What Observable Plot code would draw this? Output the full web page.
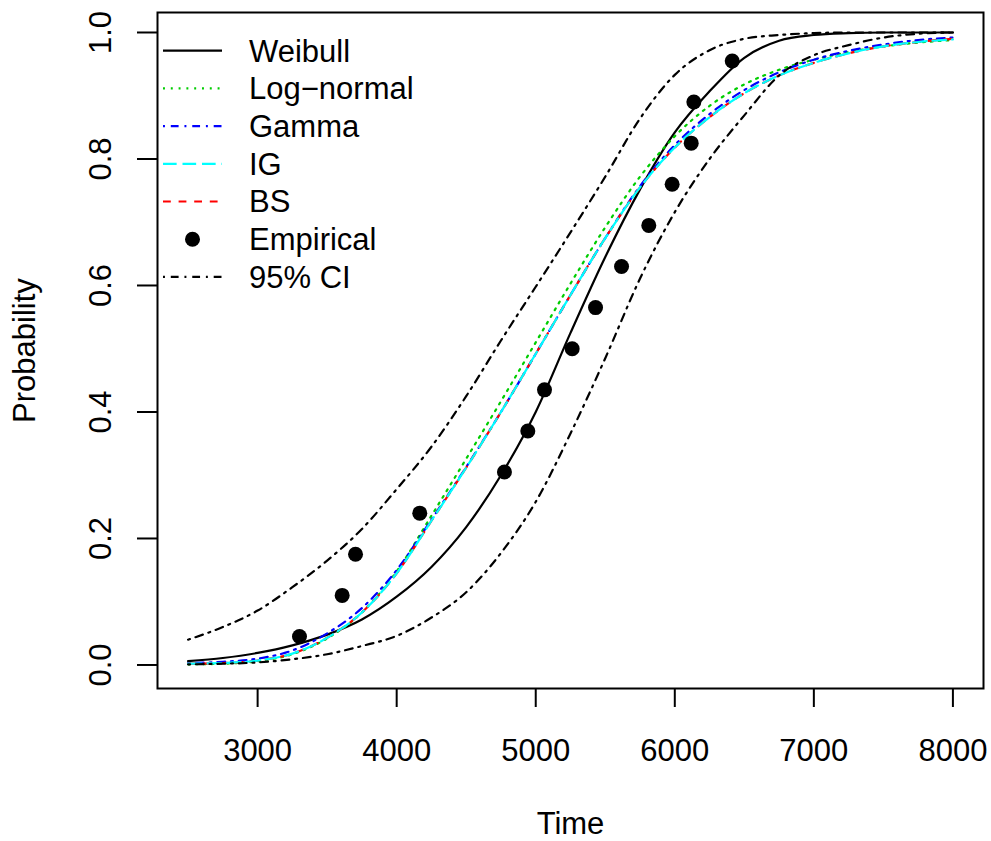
<!DOCTYPE html>
<html><head><meta charset="utf-8">
<script src="https://cdn.jsdelivr.net/npm/d3@7"></script>
<script src="https://cdn.jsdelivr.net/npm/@observablehq/plot@0.6"></script>
<style>
html,body{margin:0;padding:0;background:#fff;}
#chart{width:991px;height:841px;}
</style></head><body><div id="chart"></div>
<script>
// ---- data ----
const timeGrid   = [2500,2750,3000,3250,3500,3750,4000,4250,4500,4750,5000,5250,5500,5750,6000,6250,6500,6750,7000,7250,7500,7750,8000];
const weibull    = [0.006,0.011,0.019,0.031,0.048,0.072,0.108,0.155,0.218,0.300,0.400,0.525,0.645,0.752,0.842,0.907,0.960,0.987,0.996,0.999,1.000,1.000,1.000];
const logNormal  = [0.001,0.002,0.006,0.017,0.042,0.083,0.148,0.236,0.326,0.417,0.510,0.603,0.692,0.772,0.836,0.884,0.918,0.941,0.957,0.969,0.978,0.984,0.988];
const gammaFit   = [0.003,0.005,0.010,0.023,0.050,0.090,0.150,0.230,0.313,0.400,0.492,0.585,0.675,0.757,0.822,0.871,0.909,0.937,0.957,0.971,0.981,0.988,0.992];
const igFit      = [0.002,0.003,0.007,0.018,0.043,0.083,0.145,0.228,0.312,0.400,0.492,0.585,0.675,0.755,0.818,0.866,0.904,0.932,0.952,0.967,0.978,0.985,0.989];
const bsFit      = [0.002,0.003,0.007,0.018,0.043,0.083,0.145,0.228,0.312,0.400,0.492,0.585,0.675,0.755,0.818,0.866,0.904,0.932,0.952,0.967,0.978,0.985,0.990];
const ciLower    = [0.001,0.002,0.004,0.009,0.017,0.030,0.046,0.075,0.115,0.177,0.258,0.366,0.485,0.611,0.716,0.800,0.869,0.932,0.964,0.980,0.992,0.998,1.000];
const ciUpper    = [0.040,0.060,0.086,0.123,0.165,0.215,0.278,0.345,0.425,0.513,0.598,0.684,0.772,0.864,0.933,0.972,0.990,0.996,0.999,1.000,1.000,1.000,1.000];
const empTime    = [3301,3608,3704,4166,4775,4943,5063,5262,5430,5617,5813,5981,6118,6137,6413];
const empProb    = [0.045,0.110,0.175,0.240,0.305,0.370,0.435,0.500,0.565,0.630,0.695,0.760,0.825,0.890,0.955];
const xTicks     = [3000,4000,5000,6000,7000,8000];
const yTicks     = [0,0.2,0.4,0.6,0.8,1.0];
const legendNames = ["Weibull","Log\u2212normal","Gamma","IG","BS","Empirical","95% CI"];

// ---- styles ----
const LW = 2.2;  // line width in px
const U = 1.95;  // R dash unit in px
const dash = {
  solid: null,
  dotted: [1,3].map(d=>d*U).join(","),
  dashed: [4,4].map(d=>d*U).join(","),
  dotdash: [1,3,4,3].map(d=>d*U).join(","),
  longdash: [7,3].map(d=>d*U).join(",")
};
const curves = [
  {vals: weibull,   color: "#000000", dash: dash.solid},
  {vals: logNormal, color: "#00CD00", dash: dash.dotted},
  {vals: gammaFit,  color: "#0000FF", dash: dash.dotdash},
  {vals: bsFit,     color: "#FF0000", dash: dash.dashed},
  {vals: igFit,     color: "#00FFFF", dash: dash.longdash},
  {vals: ciLower,   color: "#000000", dash: dash.dotdash},
  {vals: ciUpper,   color: "#000000", dash: dash.dotdash}
];
const rows = vals => timeGrid.map((t,i)=>({t, p: vals[i]}));
const empirical = empTime.map((t,i)=>({t, p: empProb[i]}));
const FONT = "'Liberation Sans', Arial, Helvetica, sans-serif";
const FS = 31;

const plot = Plot.plot({
  width: 991, height: 841,
  marginLeft: 157, marginRight: 8, marginTop: 12, marginBottom: 153,
  style: {fontFamily: FONT, fontSize: FS + "px", color: "black", background: "white", overflow: "visible"},
  x: {type: "linear", domain: [2280, 8220]},
  y: {type: "linear", domain: [-0.0372, 1.0316]},
  marks: [
    Plot.axisX(xTicks, {tickSize: 19, tickPadding: 31, strokeWidth: 2, tickFormat: d => String(d), fontSize: FS, label: null}),
    Plot.axisY(yTicks, {tickSize: 20, strokeWidth: 2, tickFormat: () => "", label: null}),
    Plot.text(yTicks, {y: d => d, text: d => d3.format(".1f")(d), frameAnchor: "left", dx: -47, rotate: -90,
                       textAnchor: "middle", lineAnchor: "bottom", fontSize: FS}),
    Plot.text(["Time"], {text: d => d, frameAnchor: "bottom", dy: 145, lineAnchor: "bottom", fontSize: FS}),
    Plot.text(["Probability"], {text: d => d, frameAnchor: "left", dx: -123, rotate: -90,
                       textAnchor: "middle", lineAnchor: "bottom", fontSize: FS}),
    ...curves.map(c => Plot.line(rows(c.vals), {x: "t", y: "p", stroke: c.color, strokeWidth: LW,
                       strokeDasharray: c.dash, curve: "monotone-x"})),
    Plot.dot(empirical, {x: "t", y: "p", r: 7.5, fill: "black", stroke: "none"}),
    Plot.frame({stroke: "black", strokeWidth: 2})
  ]
});
document.getElementById("chart").appendChild(plot);

// ---- legend (inside the plot, top-left, no box) ----
const legendStyle = [
  {type: "line", color: "#000000", dash: dash.solid},
  {type: "line", color: "#00CD00", dash: dash.dotted},
  {type: "line", color: "#0000FF", dash: dash.dotdash},
  {type: "line", color: "#00FFFF", dash: dash.longdash},
  {type: "line", color: "#FF0000", dash: dash.dashed},
  {type: "dot",  color: "#000000"},
  {type: "line", color: "#000000", dash: dash.dotdash}
];
const svg = d3.select(plot.tagName.toLowerCase() === "svg" ? plot : plot.querySelector("svg"));
const lg = svg.append("g").attr("font-family", FONT).attr("font-size", FS).attr("text-anchor", "start");
legendNames.forEach((name, i) => {
  const y = 50.7 + i * 37.7;
  const s = legendStyle[i];
  if (s.type === "line") {
    lg.append("line").attr("x1", 163).attr("x2", 222).attr("y1", y).attr("y2", y)
      .attr("stroke", s.color).attr("stroke-width", LW)
      .attr("stroke-dasharray", s.dash);
  } else {
    lg.append("circle").attr("cx", 192.5).attr("cy", y).attr("r", 7.5).attr("fill", s.color);
  }
  lg.append("text").attr("x", 249).attr("y", y).attr("dy", "0.35em").attr("fill", "black")
    .attr("text-anchor", "start").text(name);
});
</script>
</body></html>
